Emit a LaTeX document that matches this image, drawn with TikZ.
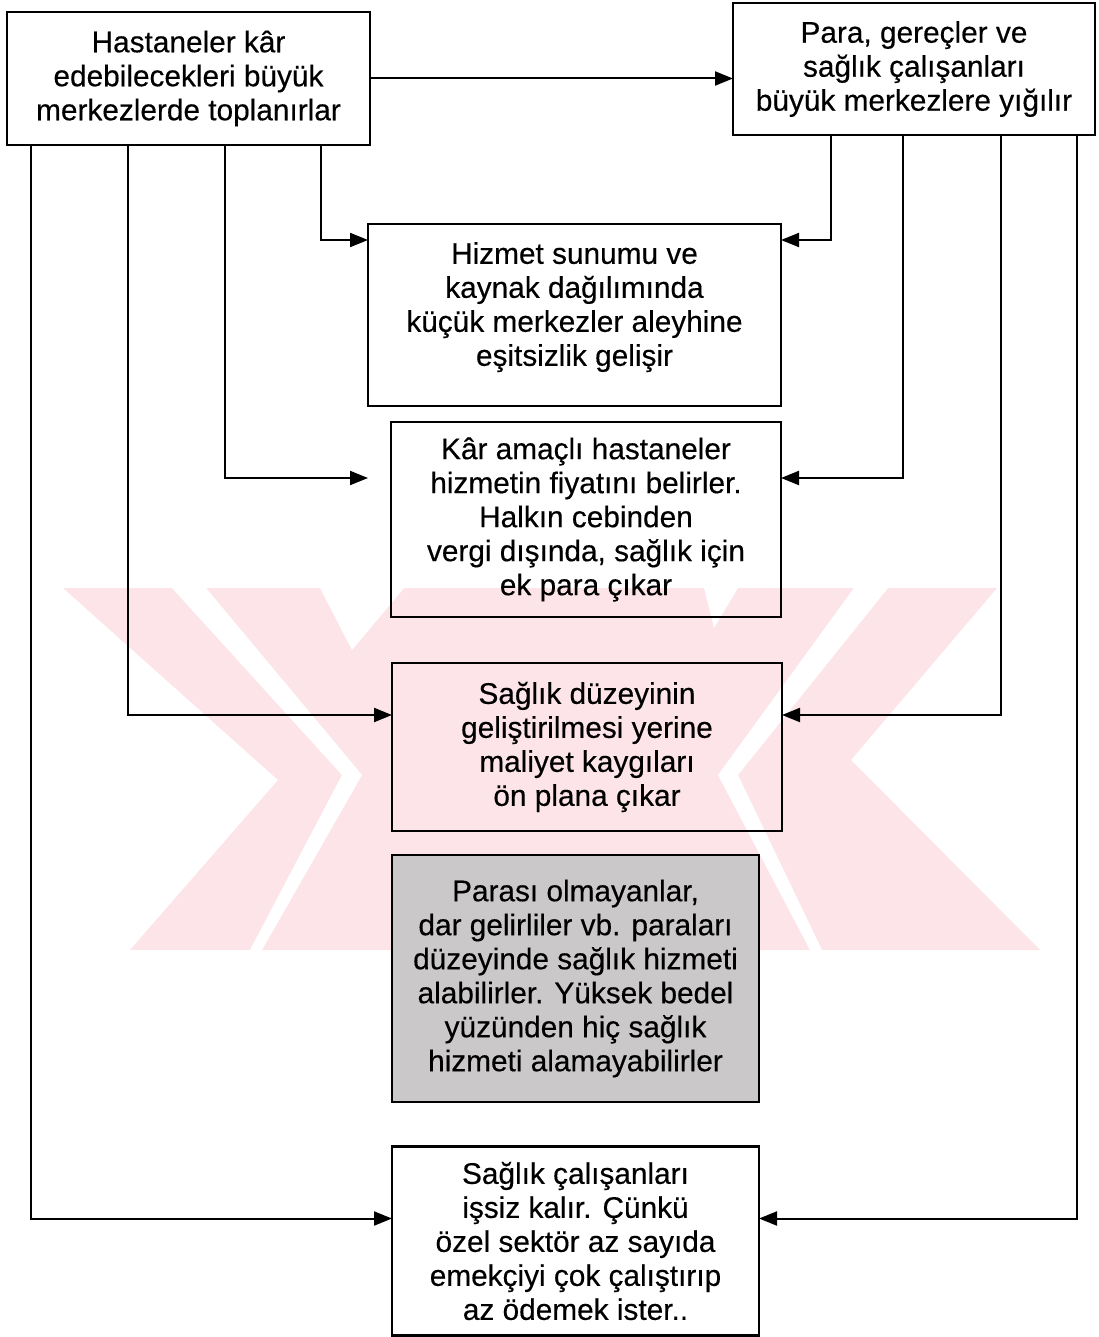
\documentclass[tikz,border=0pt]{standalone}
\usepackage{fontspec}
\setmainfont{Liberation Sans}[FakeBold=0.35]
\usetikzlibrary{arrows.meta}
\definecolor{filigran}{RGB}{252,228,233}
\definecolor{tarama}{RGB}{202,200,200}
\begin{document}
\begin{tikzpicture}[x=1pt,y=-1pt,>={Triangle[length=18pt,width=14pt]}, line join=miter,
		font=\fontsize{29.8}{34}\selectfont,
		kutu/.style={draw,line width=2.4pt,align=center,inner sep=0pt,outer sep=0pt},
		ok/.style={->,line width=2pt}]
	\useasboundingbox (0,0) rectangle (1098,1337);
	
	% filigran (arka plan)
	\fill[filigran] (63,588)--(997,588)--(851,760)--(1040,950)--(130,950)--(278,780)--cycle;
	\fill[white] (172,588)--(206,588)--(362,775)--(262,950)--(250,950)--(342,775)--cycle;
	\fill[white] (888,588)--(854,588)--(718,775)--(810,950)--(822,950)--(738,775)--cycle;
	\fill[white] (320,588)--(404,588)--(352,650)--cycle;
	\fill[white] (704,588)--(738,588)--(714,628)--cycle;
	
	\node[kutu,minimum width=363pt,minimum height=133pt] (hastane) at (188.5,78.5) {Hastaneler kâr\\edebilecekleri büyük\\merkezlerde toplanırlar};
	\node[kutu,minimum width=362pt,minimum height=132pt] (para) at (914,69) {Para, gereçler ve\\sağlık çalışanları\\büyük merkezlere yığılır};
	\node[kutu,text depth=22pt,minimum width=413pt,minimum height=182pt] (hizmet) at (574.5,315) {Hizmet sunumu ve\\kaynak dağılımında\\küçük merkezler aleyhine\\eşitsizlik gelişir};
	\node[kutu,minimum width=390pt,minimum height=195pt] (kar) at (586,519.5) {Kâr amaçlı hastaneler\\hizmetin fiyatını belirler.\\Halkın cebinden\\vergi dışında, sağlık için\\ek para çıkar};
	\node[kutu,minimum width=390pt,minimum height=168pt] (duzey) at (587,747) {Sağlık düzeyinin\\geliştirilmesi yerine\\maliyet kaygıları\\ön plana çıkar};
	\node[kutu,fill=tarama,minimum width=367pt,minimum height=247pt] (parasiz) at (575.5,978.5) {Parası olmayanlar,\\dar gelirliler vb. paraları\\düzeyinde sağlık hizmeti\\alabilirler. Yüksek bedel\\yüzünden hiç sağlık\\hizmeti alamayabilirler};
	\node[kutu,minimum width=367pt,minimum height=189pt] (issiz) at (575.5,1241) {Sağlık çalışanları\\işsiz kalır. Çünkü\\özel sektör az sayıda\\emekçiyi çok çalıştırıp\\az ödemek ister..};
	
	\draw[ok] (hastane.east) -- (hastane.east -| para.west);
	% soldan gelen oklar
	\draw[ok] ([xshift=314pt]hastane.south west) |- ([yshift=-16pt]hizmet.north west);
	\draw[ok] ([xshift=218pt]hastane.south west) |- ([xshift=-23pt,yshift=-56pt]kar.north west);
	\draw[ok] ([xshift=121pt]hastane.south west) |- ([yshift=-52pt]duzey.north west);
	\draw[ok] ([xshift=24pt]hastane.south west) |- ([yshift=-72pt]issiz.north west);
	% sagdan gelen oklar
	\draw[ok] ([xshift=98pt]para.south west) |- ([yshift=-16pt]hizmet.north east);
	\draw[ok] ([xshift=170pt]para.south west) |- ([yshift=-56pt]kar.north east);
	\draw[ok] ([xshift=268pt]para.south west) |- ([yshift=-52pt]duzey.north east);
	\draw[ok] ([xshift=344pt]para.south west) |- ([yshift=-72pt]issiz.north east);
	
\end{tikzpicture}
\end{document}
